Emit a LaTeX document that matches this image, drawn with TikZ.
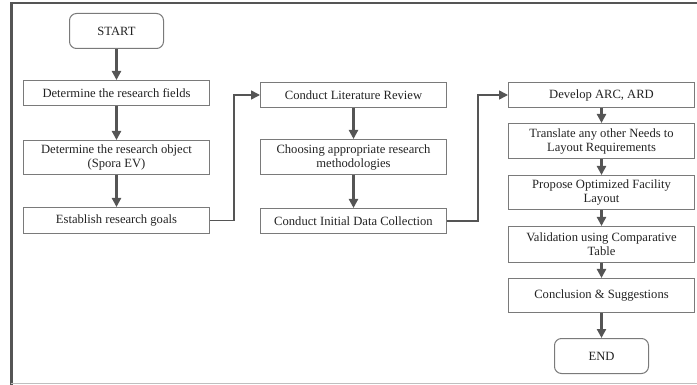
\documentclass[tikz,border=0pt]{standalone}
\usepackage{fontspec}
\setmainfont{Liberation Serif}
\usetikzlibrary{arrows.meta}
\definecolor{boxline}{HTML}{7A7A7A}
\definecolor{arrowc}{HTML}{555555}
\definecolor{txt}{HTML}{222222}
\begin{document}
\begin{tikzpicture}[x=1pt,y=-1pt,
  stepbox/.style={draw=boxline,line width=1pt,minimum width=186pt,align=center,text=txt,
    font=\fontsize{12.6}{14}\selectfont,inner sep=0pt,anchor=north west},
  term/.style={stepbox,rounded corners=7pt,minimum width=94pt,minimum height=35pt},
  flow/.style={draw=arrowc,line width=2.2pt,-{Triangle[width=9pt,length=9pt]}},
  link/.style={draw=arrowc,line width=1.6pt,-{Triangle[width=9pt,length=9pt]}}]
\useasboundingbox (0,0) rectangle (697,385);
% frame
\draw[draw=arrowc,line width=2pt] (10,3.5) -- (697,3.5);
\draw[draw=arrowc,line width=2.5pt] (11.5,3) -- (11.5,385);
\draw[draw=gray!50,line width=0.8pt] (11,383.5) -- (697,383.5);
% column 1
\node[term] (start) at (69,13) {START};
\node[stepbox,minimum height=25pt] (a1) at (23,80) {Determine the research fields};
\node[stepbox,minimum height=34pt] (a2) at (23,140) {Determine the research object\\(Spora EV)};
\node[stepbox,minimum height=26pt] (a3) at (23,207) {Establish research goals};
% column 2
\node[stepbox,minimum height=25pt] (b1) at (260,82) {Conduct Literature Review};
\node[stepbox,minimum height=35pt] (b2) at (260,139) {Choosing appropriate research\\methodologies};
\node[stepbox,minimum height=25pt] (b3) at (260,208) {Conduct Initial Data Collection};
% column 3
\node[stepbox,minimum height=25pt] (c1) at (508,82) {Develop ARC, ARD};
\node[stepbox,minimum height=35pt] (c2) at (508,123) {Translate any other Needs to\\Layout Requirements};
\node[stepbox,minimum height=34pt] (c3) at (508,175) {Propose Optimized Facility\\Layout};
\node[stepbox,minimum height=36pt] (c4) at (508,226) {Validation using Comparative\\Table};
\node[stepbox,minimum height=34pt] (c5) at (508,278) {Conclusion \& Suggestions};
\node[term] (endn) at (554,338) {END};
% arrows
\draw[flow] (start) -- (a1);
\draw[flow] (a1) -- (a2);
\draw[flow] (a2) -- (a3);
\draw[link] (a3.east) -- ++(24,0) |- (b1.west);
\draw[flow] (b1) -- (b2);
\draw[flow] (b2) -- (b3);
\draw[link] (b3.east) -- ++(31,0) |- (c1.west);
\draw[flow] (c1) -- (c2);
\draw[flow] (c2) -- (c3);
\draw[flow] (c3) -- (c4);
\draw[flow] (c4) -- (c5);
\draw[flow] (c5) -- (endn);
\end{tikzpicture}
\end{document}
